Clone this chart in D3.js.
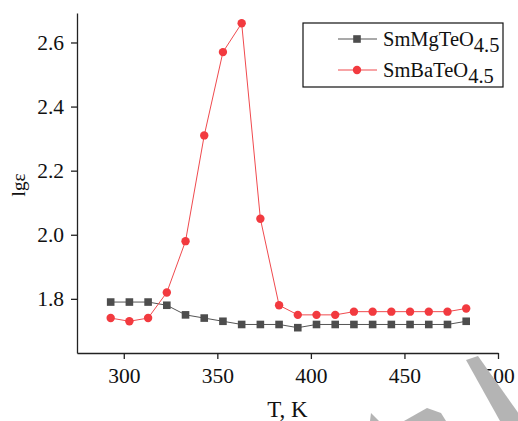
<!DOCTYPE html>
<html>
<head>
<meta charset="utf-8">
<script src="https://cdn.jsdelivr.net/npm/d3@7"></script>
<style>
  body { margin: 0; background: #fff; }
  svg text { font-family: "Liberation Serif", "Times New Roman", serif; }
</style>
</head>
<body>
<div id="content"></div>
<script>
// temperatures, K
var temps = [293, 303, 313, 323, 333, 343, 353, 363, 373, 383, 393, 403, 413, 423, 433, 443, 453, 463, 473, 483];
// lg(eps) for each sample
var mgValues = [1.79, 1.79, 1.79, 1.78, 1.75, 1.74, 1.73, 1.72, 1.72, 1.72, 1.71, 1.72, 1.72, 1.72, 1.72, 1.72, 1.72, 1.72, 1.72, 1.73];
var baValues = [1.74, 1.73, 1.74, 1.82, 1.98, 2.31, 2.57, 2.66, 2.05, 1.78, 1.75, 1.75, 1.75, 1.76, 1.76, 1.76, 1.76, 1.76, 1.76, 1.77];
var xTicks = [300, 350, 400, 450, 500];
var yTicks = [1.8, 2.0, 2.2, 2.4, 2.6];
var seriesNames = ["SmMgTeO", "SmBaTeO"];
var subscript = "4.5";

var width = 518, height = 421;
var margin = {top: 13, right: 20, bottom: 68, left: 77};

var svg = d3.select("#content").append("svg")
    .attr("width", width)
    .attr("height", height);

var x_scale = d3.scaleLinear().domain([275, 500]).range([margin.left, 498]);
var y_scale = d3.scaleLinear().domain([1.631, 2.692]).range([height - margin.bottom, margin.top]);

// minor ticks
var xMinor = d3.range(275, 501, 25).filter(function(v) { return xTicks.indexOf(v) < 0; });
var yMinor = [1.7, 1.9, 2.1, 2.3, 2.5];

var gx = svg.append("g")
    .attr("transform", "translate(0," + (height - margin.bottom) + ")");
gx.call(d3.axisBottom(x_scale).tickValues(xMinor).tickSize(4).tickFormat(""));
gx.call(d3.axisBottom(x_scale).tickValues(xTicks).tickSize(6).tickPadding(9).tickSizeOuter(0));
gx.selectAll("text").attr("font-size", 21.5).attr("fill", "#111");
gx.selectAll("path, line").attr("stroke", "#222").attr("stroke-width", 1.3);

var gy = svg.append("g")
    .attr("transform", "translate(" + margin.left + ",0)");
gy.call(d3.axisLeft(y_scale).tickValues(yMinor).tickSize(4).tickFormat(""));
gy.call(d3.axisLeft(y_scale).tickValues(yTicks).tickSize(6).tickPadding(7).tickSizeOuter(0).tickFormat(d3.format(".1f")));
gy.selectAll("text").attr("font-size", 21.5).attr("fill", "#111");
gy.selectAll("path, line").attr("stroke", "#222").attr("stroke-width", 1.3);

// axis titles
svg.append("text")
    .attr("x", (x_scale.range()[0] + x_scale.range()[1]) / 2)
    .attr("y", 417)
    .attr("text-anchor", "middle")
    .attr("font-size", 23)
    .attr("fill", "#111")
    .text("T, K");

svg.append("text")
    .attr("transform", "translate(25,185) rotate(-90)")
    .attr("text-anchor", "middle")
    .attr("font-size", 19)
    .attr("fill", "#111")
    .text("lgε");

var series = [
  {name: seriesNames[0], values: mgValues, color: "#4d4d4d", line: "#555", shape: "square"},
  {name: seriesNames[1], values: baValues, color: "#f23a3f", line: "#f04a4e", shape: "circle"}
];

var line = d3.line()
    .x(function(d) { return x_scale(d[0]); })
    .y(function(d) { return y_scale(d[1]); });

series.forEach(function(s) {
  var pts = temps.map(function(t, i) { return [t, s.values[i]]; });
  svg.append("path")
      .datum(pts)
      .attr("d", line)
      .attr("fill", "none")
      .attr("stroke", s.line)
      .attr("stroke-width", 1);
  var g = svg.append("g");
  if (s.shape === "square") {
    g.selectAll("rect").data(pts).enter().append("rect")
        .attr("x", function(d) { return x_scale(d[0]) - 3.8; })
        .attr("y", function(d) { return y_scale(d[1]) - 3.8; })
        .attr("width", 7.6)
        .attr("height", 7.6)
        .attr("fill", s.color);
  } else {
    g.selectAll("circle").data(pts).enter().append("circle")
        .attr("cx", function(d) { return x_scale(d[0]); })
        .attr("cy", function(d) { return y_scale(d[1]); })
        .attr("r", 4.2)
        .attr("fill", s.color);
  }
});

// legend
var legend = svg.append("g").attr("transform", "translate(303,23)");
legend.append("rect")
    .attr("width", 200)
    .attr("height", 64)
    .attr("fill", "#fff")
    .attr("stroke", "#111")
    .attr("stroke-width", 1.2);

series.forEach(function(s, i) {
  var row = legend.append("g").attr("transform", "translate(0," + (16 + i * 31) + ")");
  row.append("line")
      .attr("x1", 35).attr("x2", 74)
      .attr("stroke", s.line).attr("stroke-width", 1.2);
  if (s.shape === "square") {
    row.append("rect").attr("x", 50.2).attr("y", -3.8).attr("width", 7.6).attr("height", 7.6).attr("fill", s.color);
  } else {
    row.append("circle").attr("cx", 54).attr("r", 4.2).attr("fill", s.color);
  }
  var t = row.append("text")
      .attr("x", 80)
      .attr("y", 7)
      .attr("font-size", 20.5)
      .attr("fill", "#111");
  t.append("tspan").text(s.name);
  t.append("tspan").attr("dy", 6).text(subscript);
});

// grey scan marks over the bottom-right corner
var marks = svg.append("g").attr("fill", "#b4b4b4");
marks.append("path").attr("d", "M466,360L478,356L524,421L500,421Z");
marks.append("path").attr("d", "M404,421L427,408L441,413L446,421Z");
marks.append("path").attr("d", "M370,421L371,413L379,421Z");
</script>
</body>
</html>
